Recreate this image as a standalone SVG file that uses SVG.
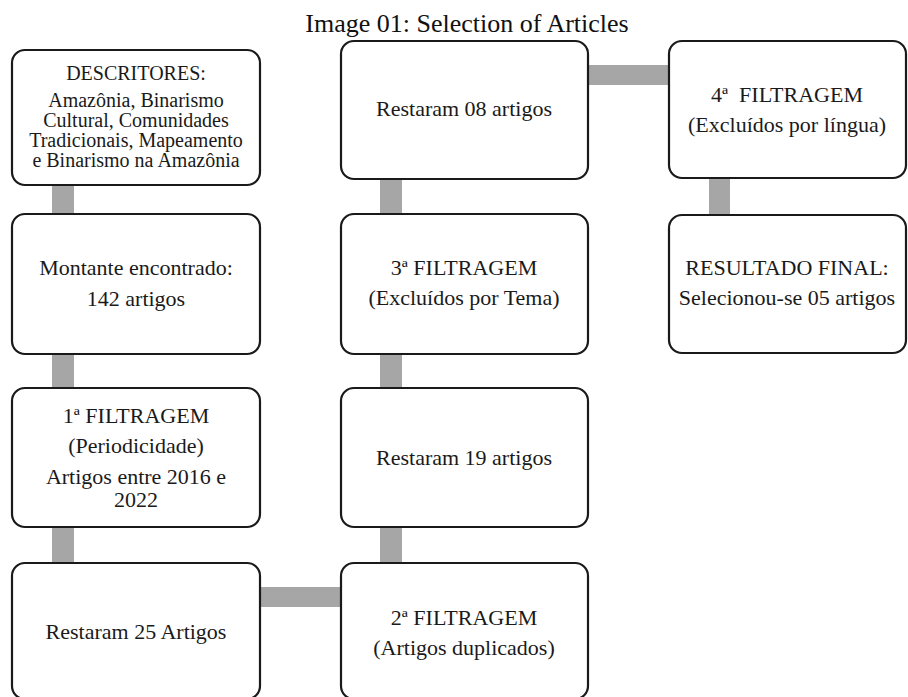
<svg xmlns="http://www.w3.org/2000/svg" width="908" height="697" viewBox="0 0 908 697">
<style>
.box{fill:#fff;stroke:#1a1a1a;stroke-width:2.2}
.t{font-family:"Liberation Serif","Times New Roman",serif;font-size:22px;fill:#1a1a1a;text-anchor:middle}
.s{font-size:20px}
.title{font-family:"Liberation Serif","Times New Roman",serif;font-size:26px;fill:#111;text-anchor:middle}
.c{fill:#a6a6a6}
</style>
<rect width="908" height="697" fill="#fff"/>
<text class="title" x="467" y="32">Image 01: Selection of Articles</text>
<g id="connectors">
<rect class="c" x="52" y="184" width="22" height="32"/>
<rect class="c" x="52" y="353" width="22" height="37"/>
<rect class="c" x="52" y="526" width="22" height="39"/>
<rect class="c" x="259" y="587" width="83" height="20"/>
<rect class="c" x="380" y="526" width="22" height="39"/>
<rect class="c" x="380" y="353" width="22" height="37"/>
<rect class="c" x="380" y="178" width="22" height="38"/>
<rect class="c" x="587" y="65" width="83" height="20"/>
<rect class="c" x="709" y="177" width="21" height="40"/>
</g>
<g id="descritores">
<rect class="box" x="12" y="50" width="248" height="135" rx="13"/>
<text class="t s" x="136" y="80">DESCRITORES:</text>
<text class="t s" x="136" y="107">Amazônia, Binarismo</text>
<text class="t s" x="136" y="127">Cultural, Comunidades</text>
<text class="t s" x="136" y="147">Tradicionais, Mapeamento</text>
<text class="t s" x="136" y="167">e Binarismo na Amazônia</text>
</g>
<g id="montante">
<rect class="box" x="12" y="214" width="248" height="140" rx="13"/>
<text class="t" x="136" y="275">Montante encontrado:</text>
<text class="t" x="136" y="306">142 artigos</text>
</g>
<g id="filtragem1">
<rect class="box" x="12" y="388" width="248" height="139" rx="13"/>
<text class="t" x="136" y="423">1ª FILTRAGEM</text>
<text class="t" x="136" y="453">(Periodicidade)</text>
<text class="t" x="136" y="484">Artigos entre 2016 e</text>
<text class="t" x="136" y="507">2022</text>
</g>
<g id="restaram25">
<rect class="box" x="12" y="563" width="248" height="136" rx="13"/>
<text class="t" x="136" y="639">Restaram 25 Artigos</text>
</g>
<g id="filtragem2">
<rect class="box" x="341" y="563" width="247" height="136" rx="13"/>
<text class="t" x="464" y="625">2ª FILTRAGEM</text>
<text class="t" x="464" y="655">(Artigos duplicados)</text>
</g>
<g id="restaram19">
<rect class="box" x="341" y="388" width="247" height="139" rx="13"/>
<text class="t" x="464" y="465">Restaram 19 artigos</text>
</g>
<g id="filtragem3">
<rect class="box" x="341" y="214" width="247" height="140" rx="13"/>
<text class="t" x="464" y="275">3ª FILTRAGEM</text>
<text class="t" x="464" y="305">(Excluídos por Tema)</text>
</g>
<g id="restaram08">
<rect class="box" x="341" y="41" width="247" height="138" rx="13"/>
<text class="t" x="464" y="116">Restaram 08 artigos</text>
</g>
<g id="filtragem4">
<rect class="box" x="669" y="41" width="237" height="137" rx="13"/>
<text class="t" x="787" y="102">4ª&#160; FILTRAGEM</text>
<text class="t" x="787" y="132">(Excluídos por língua)</text>
</g>
<g id="resultado">
<rect class="box" x="669" y="215" width="237" height="138" rx="13"/>
<text class="t" x="787" y="275">RESULTADO FINAL:</text>
<text class="t" x="787" y="305">Selecionou-se 05 artigos</text>
</g>
</svg>
